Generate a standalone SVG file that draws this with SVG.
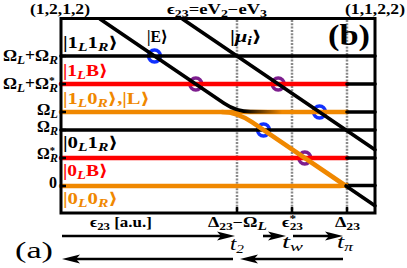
<svg xmlns="http://www.w3.org/2000/svg" width="407" height="268" viewBox="0 0 407 268">
<defs>
<style>
.t{font-family:"Liberation Serif","DejaVu Serif",serif;font-weight:bold;font-size:16px;fill:#000}
.sb{font-size:12px;font-style:italic}
.sn{font-size:10.5px}
.red{fill:#ff0000}
.org{fill:#f08800}
.ln{fill:none;stroke-linecap:round}
.k{stroke:#000;stroke-width:3.6}
.r{stroke:#ff0000;stroke-width:4.6}
.o{stroke:#f08800;stroke-width:4.6}
.dot{stroke:#8a8a8a;stroke-width:2.5;stroke-dasharray:2 1.3;fill:none}
.cb{fill:none;stroke:#1030ff;stroke-width:3.3}
.cp{fill:none;stroke:#7d1e8e;stroke-width:3.3}
.ar{stroke:#000;stroke-width:2.6;fill:none;marker-end:url(#ah)}
</style>
<linearGradient id="bo" gradientUnits="userSpaceOnUse" x1="244" y1="0" x2="282" y2="0">
<stop offset="0" stop-color="#000"/><stop offset="1" stop-color="#f08800"/>
</linearGradient>
<marker id="ah" markerUnits="userSpaceOnUse" viewBox="0 0 18 10" refX="10" refY="5" markerWidth="18" markerHeight="10" orient="auto">
<path d="M0,0.5 L18,5 L0,9.5 L4,5 Z" fill="#000"/>
</marker>
</defs>
<rect width="407" height="268" fill="#fff"/>

<g id="guides">
<path class="dot" d="M237,20 V212"/>
<path class="dot" d="M292,20 V212"/>
<path class="dot" d="M347,20 V212"/>
</g>

<g id="crossings">
<circle class="cb" cx="154.5" cy="56" r="6"/>
<circle class="cb" cx="263.5" cy="130" r="6"/>
<circle class="cb" cx="319.5" cy="112" r="6"/>
<circle class="cp" cx="195.8" cy="84" r="6"/>
<circle class="cp" cx="278.2" cy="84" r="6"/>
<circle class="cp" cx="304.8" cy="158" r="6"/>
</g>

<g id="levels">
<path class="ln k" d="M61,56 H375"/>
<path class="ln r" d="M61,84 H347"/>
<path class="ln k" d="M347,84 H375"/>
<path class="ln o" d="M61,112 H347"/>
<path class="ln k" d="M347,112 H375"/>
<path class="ln k" d="M61,130 H375"/>
<path class="ln r" d="M61,158 H347"/>
<path class="ln k" d="M347,158 H375"/>
<path class="ln o" d="M61,186 H336 Q344,186 347,185"/>
<path class="ln k" d="M347,185.5 H375"/>
</g>

<g id="connectors">
<path class="ln" stroke="url(#bo)" stroke-width="3.6" d="M100,19 L224,103.2 Q237,112 252,111.6 L285,112"/>
<path class="ln o" d="M222,112 Q237,112 252,122.2 L346,186"/>
<path class="ln k" d="M346,186 L375,205.7"/>
<path class="ln k" d="M182.5,19 L375,149.7"/>
</g>

<g id="ticks" stroke="#000" stroke-width="2.5">
<path d="M61,56 h5 M61,84 h5 M61,112 h5 M61,130 h5 M61,158 h5 M61,186 h5"/>
<path d="M237,207 V213 M292,207 V213 M347,207 V213"/>
</g>

<rect id="frame" x="61" y="18.5" width="314" height="194.5" fill="none" stroke="#000" stroke-width="3"/>

<g id="top-labels">
<text class="t" x="30" y="14" style="font-size:14px" textLength="60" lengthAdjust="spacingAndGlyphs">(1,2,1,2)</text>
<text class="t" x="167" y="14" textLength="100" lengthAdjust="spacingAndGlyphs" style="font-size:14px">ϵ<tspan class="sn" dy="3">23</tspan><tspan dy="-3">=eV</tspan><tspan class="sn" dy="3">2</tspan><tspan dy="-3">−eV</tspan><tspan class="sn" dy="3">3</tspan></text>
<text class="t" x="345" y="14" style="font-size:14px" textLength="60" lengthAdjust="spacingAndGlyphs">(1,1,2,2)</text>
</g>

<g id="state-labels">
<text class="t" x="63" y="48" textLength="55" lengthAdjust="spacingAndGlyphs">|1<tspan class="sb" dy="3">L</tspan><tspan dy="-3">1</tspan><tspan class="sb" dy="3">R</tspan><tspan dy="-3">⟩</tspan></text>
<text class="t" x="147" y="42" textLength="21" lengthAdjust="spacingAndGlyphs">|E⟩</text>
<text class="t" x="230" y="42" textLength="32" lengthAdjust="spacingAndGlyphs">|<tspan font-style="italic">μ</tspan><tspan class="sb" dy="3">i</tspan><tspan dy="-3">⟩</tspan></text>
<text class="t" x="328" y="45" style="font-size:30px" textLength="42" lengthAdjust="spacingAndGlyphs">(b)</text>
<text class="t red" x="63" y="76" textLength="45" lengthAdjust="spacingAndGlyphs">|1<tspan class="sb" dy="3">L</tspan><tspan dy="-3">B⟩</tspan></text>
<text class="t org" x="63" y="104" textLength="87" lengthAdjust="spacingAndGlyphs">|1<tspan class="sb" dy="3">L</tspan><tspan dy="-3">0</tspan><tspan class="sb" dy="3">R</tspan><tspan dy="-3">⟩,|L⟩</tspan></text>
<text class="t" x="63" y="148" textLength="55" lengthAdjust="spacingAndGlyphs">|0<tspan class="sb" dy="3">L</tspan><tspan dy="-3">1</tspan><tspan class="sb" dy="3">R</tspan><tspan dy="-3">⟩</tspan></text>
<text class="t red" x="63" y="176" textLength="45" lengthAdjust="spacingAndGlyphs">|0<tspan class="sb" dy="3">L</tspan><tspan dy="-3">B⟩</tspan></text>
<text class="t org" x="63" y="204" textLength="55" lengthAdjust="spacingAndGlyphs">|0<tspan class="sb" dy="3">L</tspan><tspan dy="-3">0</tspan><tspan class="sb" dy="3">R</tspan><tspan dy="-3">⟩</tspan></text>
</g>

<g id="axis-labels">
<text class="t" x="3" y="61" textLength="55" lengthAdjust="spacingAndGlyphs">Ω<tspan class="sb" dy="3">L</tspan><tspan dy="-3">+Ω</tspan><tspan class="sb" dy="3">R</tspan></text>
<text class="t" x="3" y="89" textLength="55" lengthAdjust="spacingAndGlyphs">Ω<tspan class="sb" dy="3">L</tspan><tspan dy="-3">+Ω</tspan><tspan class="sn" dy="-5">*</tspan><tspan class="sb" dx="-5" dy="8">R</tspan></text>
<text class="t" x="37" y="115" textLength="21" lengthAdjust="spacingAndGlyphs">Ω<tspan class="sb" dy="3">L</tspan></text>
<text class="t" x="37" y="132" textLength="21" lengthAdjust="spacingAndGlyphs">Ω<tspan class="sb" dy="3">R</tspan></text>
<text class="t" x="37" y="159" textLength="21" lengthAdjust="spacingAndGlyphs">Ω<tspan class="sn" dy="-5">*</tspan><tspan class="sb" dx="-5" dy="8">R</tspan></text>
<text class="t" x="49" y="188">0</text>
</g>

<g id="bottom-labels">
<text class="t" x="90" y="227" textLength="62" lengthAdjust="spacingAndGlyphs" style="font-size:14px">ϵ<tspan class="sn" dy="3">23</tspan><tspan dy="-3"> [a.u.]</tspan></text>
<text class="t" x="208" y="227" textLength="59" lengthAdjust="spacingAndGlyphs" style="font-size:14px">Δ<tspan class="sn" dy="3">23</tspan><tspan dy="-3">−Ω</tspan><tspan class="sb" dy="3">L</tspan></text>
<text class="t" x="282" y="227" textLength="21" lengthAdjust="spacingAndGlyphs" style="font-size:14px">ϵ<tspan class="sn" dy="-5">*</tspan><tspan class="sn" dx="-5" dy="8">23</tspan></text>
<text class="t" x="335" y="227" textLength="25" lengthAdjust="spacingAndGlyphs" style="font-size:14px">Δ<tspan class="sn" dy="3">23</tspan></text>
<text class="t" x="230" y="250" style="font-size:18px;font-weight:normal;font-style:italic" textLength="14" lengthAdjust="spacingAndGlyphs">t<tspan font-size="12" dy="3">2</tspan></text>
<text class="t" x="282" y="248" style="font-size:18px;font-weight:normal;font-style:italic" textLength="21" lengthAdjust="spacingAndGlyphs">t<tspan font-size="12" dy="3">w</tspan></text>
<text class="t" x="337" y="248" style="font-size:18px;font-weight:normal;font-style:italic" textLength="16" lengthAdjust="spacingAndGlyphs">t<tspan font-size="12" dy="3">π</tspan></text>
<text class="t" x="15" y="258" style="font-size:24px;font-weight:normal" textLength="38" lengthAdjust="spacingAndGlyphs">(a)</text>
</g>

<g id="arrows">
<path class="ar" d="M62,236 H227"/>
<path class="ar" d="M263,236 H278"/>
<path class="ar" d="M293,236 H335"/>
<path class="ar" d="M233,259 H70"/>
<path class="ar" d="M343,259 H248"/>
</g>
</svg>
